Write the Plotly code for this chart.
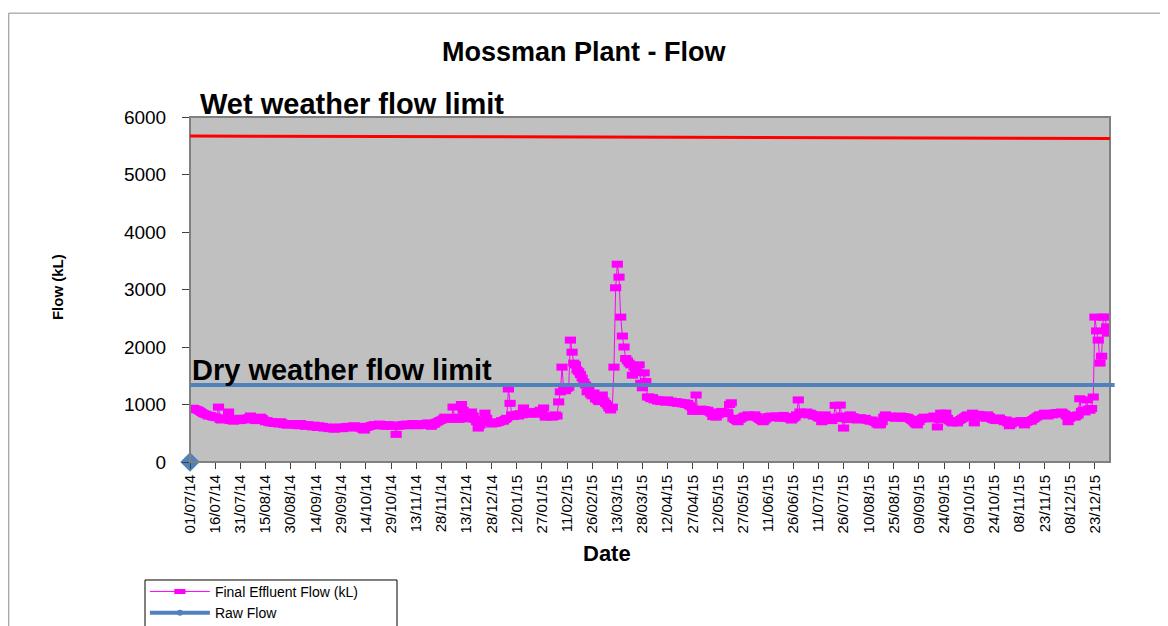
import pandas as pd
import plotly.graph_objects as go

# ---- data: daily Final Effluent Flow (kL), 01/07/2014 .. 31/12/2015 ----
jul14 = [930, 925, 935, 920, 910, 900, 880, 860, 840, 830, 820, 800, 810, 790, 780, 785, 770, 955, 740, 730, 750, 760, 740, 870, 720, 730, 710, 740, 760, 730, 720]
aug14 = [750, 730, 760, 740, 770, 800, 760, 740, 720, 750, 740, 780, 760, 730, 700, 720, 690, 680, 700, 670, 690, 680, 660, 700, 680, 650, 670, 640, 660, 650, 670]
sep14 = [650, 640, 660, 630, 670, 650, 640, 620, 650, 640, 630, 610, 640, 620, 600, 630, 610, 620, 590, 600, 610, 580, 600, 590, 570, 600, 580, 610, 590, 580]
oct14 = [600, 610, 620, 600, 590, 620, 630, 610, 600, 620, 590, 570, 555, 600, 610, 620, 630, 640, 650, 630, 640, 660, 650, 630, 640, 620, 650, 640, 630, 620, 640]
nov14 = [480, 620, 640, 630, 650, 640, 660, 630, 650, 640, 670, 650, 640, 630, 660, 650, 640, 670, 660, 680, 640, 620, 650, 660, 690, 700, 720, 730, 750, 780]
dec14 = [760, 740, 770, 750, 955, 760, 780, 740, 750, 1000, 900, 780, 760, 750, 790, 870, 800, 740, 700, 590, 640, 700, 720, 850, 760, 700, 680, 660, 690, 670, 680]
jan15 = [690, 700, 720, 710, 740, 760, 1270, 1020, 820, 790, 810, 830, 800, 840, 820, 940, 850, 830, 860, 840, 870, 850, 880, 830, 860, 900, 850, 940, 780, 800, 790]
feb15 = [800, 780, 790, 820, 800, 1045, 1220, 1650, 1260, 1240, 1280, 1300, 2120, 1910, 1720, 1690, 1600, 1570, 1520, 1460, 1390, 1340, 1220, 1250, 1180, 1150, 1200, 1100]
mar15 = [1080, 1050, 1100, 1165, 1060, 1020, 990, 940, 905, 955, 1650, 3030, 3440, 3215, 2520, 2190, 2000, 1800, 1760, 1720, 1690, 1510, 1650, 1600, 1560, 1690, 1370, 1290, 1550, 1400, 1130]
apr15 = [1130, 1100, 1120, 1080, 1090, 1060, 1080, 1050, 1070, 1060, 1040, 1080, 1050, 1060, 1040, 1030, 1050, 1020, 1040, 1030, 1010, 1030, 1000, 1020, 980, 960, 880, 900, 1165, 880]
may15 = [900, 920, 890, 910, 880, 900, 870, 850, 790, 830, 780, 820, 860, 880, 870, 840, 860, 850, 1000, 1030, 760, 740, 720, 700, 740, 760, 780, 800, 790, 820, 810]
jun15 = [800, 780, 820, 790, 760, 740, 720, 700, 730, 760, 790, 780, 800, 790, 770, 800, 780, 760, 790, 810, 780, 760, 790, 750, 730, 760, 780, 820, 1080, 870]
jul15 = [860, 850, 840, 870, 820, 850, 830, 800, 820, 790, 770, 760, 700, 740, 820, 780, 760, 740, 720, 760, 985, 780, 760, 990, 800, 590, 760, 740, 780, 820, 790]
aug15 = [780, 760, 730, 760, 770, 740, 750, 760, 730, 720, 710, 730, 700, 690, 660, 645, 650, 700, 780, 820, 790, 770, 800, 780, 790, 760, 780, 770, 800, 760, 790]
sep15 = [770, 780, 760, 740, 720, 690, 660, 645, 700, 740, 760, 780, 765, 750, 770, 760, 780, 800, 760, 610, 740, 850, 800, 780, 850, 760, 720, 700, 680, 700]
oct15 = [700, 680, 720, 740, 760, 780, 800, 820, 810, 790, 850, 680, 800, 830, 820, 810, 800, 780, 760, 820, 790, 760, 740, 730, 720, 760, 765, 740, 720, 700, 730]
nov15 = [680, 630, 660, 690, 700, 710, 690, 700, 720, 680, 645, 690, 700, 720, 710, 740, 760, 780, 800, 820, 810, 830, 850, 820, 800, 830, 840, 820, 850, 860]
dec15 = [840, 860, 870, 850, 830, 800, 700, 760, 790, 810, 780, 800, 820, 1100, 880, 900, 870, 1080, 920, 900, 930, 1130, 2520, 2280, 2120, 1720, 1840, 2520, 2520, 2350, 2240]

effluent = (jul14 + aug14 + sep14 + oct14 + nov14 + dec14 + jan15 + feb15 + mar15
            + apr15 + may15 + jun15 + jul15 + aug15 + sep15 + oct15 + nov15 + dec15)
start_date = "2014-07-01"
dates = pd.date_range(start_date, periods=len(effluent), freq="D")

raw_dates = ["2014-07-01"]
raw_values = [0]

wet_limit = [5670, 5625]   # left / right end of drawn line
dry_limit = 1340

FONT = "Arial, Liberation Sans, sans-serif"
MAGENTA = "#FF00FF"
BLUE = "#4F81BD"

fig = go.Figure()
fig.add_trace(go.Scatter(
    x=dates, y=effluent, mode="lines+markers", name="Final Effluent Flow (kL)",
    line=dict(color=MAGENTA, width=1),
    marker=dict(symbol="line-ew", size=8, color=MAGENTA,
                line=dict(color=MAGENTA, width=7)),
))
fig.add_trace(go.Scatter(
    x=raw_dates, y=raw_values, mode="markers", showlegend=False,
    marker=dict(symbol="diamond", size=15, color=BLUE), cliponaxis=False,
))
fig.add_trace(go.Scatter(
    x=[None], y=[None], mode="lines+markers", name="Raw Flow",
    line=dict(color=BLUE, width=4), marker=dict(symbol="circle", size=6, color=BLUE),
))

shapes = [
    dict(type="rect", xref="paper", yref="paper", x0=0, x1=1, y0=0, y1=1,
         line=dict(color="#808080", width=2), layer="above"),
    dict(type="line", xref="paper", yref="y", x0=0, x1=1, y0=wet_limit[0], y1=wet_limit[1],
         line=dict(color="#FF0000", width=3)),
    dict(type="line", xref="paper", yref="y", x0=0, x1=1.005, y0=dry_limit, y1=dry_limit,
         line=dict(color=BLUE, width=4)),
    # chart border
    dict(type="rect", xref="paper", yref="paper", x0=-0.197, x1=1.2, y0=-0.6, y1=1.301,
         line=dict(color="#8C8C8C", width=1)),
    # legend box
    dict(type="rect", xref="paper", yref="paper", x0=-0.0489, x1=0.225, y0=-0.6, y1=-0.342,
         line=dict(color="black", width=1), fillcolor="white"),
]

annotations = [
    dict(text="<b>Mossman Plant - Flow</b>", xref="paper", yref="paper", x=0.429, y=1.188,
         xanchor="center", yanchor="middle", showarrow=False,
         font=dict(family=FONT, size=27, color="black")),
    dict(text="<b>Wet weather flow limit</b>", xref="paper", yref="paper", x=0.009, y=1.038,
         xanchor="left", yanchor="middle", showarrow=False,
         font=dict(family=FONT, size=29, color="black")),
    dict(text="<b>Dry weather flow limit</b>", xref="paper", yref="paper", x=0.0, y=0.267,
         xanchor="left", yanchor="middle", showarrow=False,
         font=dict(family=FONT, size=29, color="black")),
    dict(text="<b>Flow (kL)</b>", xref="paper", yref="paper", x=-0.1446, y=0.507,
         xanchor="center", yanchor="middle",
         textangle=-90, showarrow=False, font=dict(family=FONT, size=15, color="black")),
    dict(text="<b>Date</b>", xref="paper", yref="paper", x=0.453, y=-0.264,
         xanchor="center", yanchor="middle",
         showarrow=False, font=dict(family=FONT, size=22, color="black")),
]

fig.update_layout(
    width=1168, height=640,
    margin=dict(l=182, r=66, t=109, b=186),
    paper_bgcolor="white", plot_bgcolor="#C0C0C0",
    shapes=shapes, annotations=annotations,
    showlegend=True,
    legend=dict(x=-0.049, y=-0.330, xanchor="left", yanchor="top",
                borderwidth=0, bgcolor="rgba(0,0,0,0)",
                font=dict(family=FONT, size=14, color="black"),
                itemwidth=60, tracegroupgap=0),
    xaxis=dict(
        type="date", range=["2014-07-01", "2016-01-01"],
        tickmode="linear", tick0="2014-07-01", dtick=15 * 86400000,
        tickformat="%d/%m/%y", tickangle=-90,
        tickfont=dict(family=FONT, size=15, color="black"),
        ticks="outside", ticklen=6, tickcolor="#404040",
        showgrid=False, zeroline=False, showline=False,
    ),
    yaxis=dict(
        range=[0, 6000], tickmode="linear", tick0=0, dtick=1000,
        tickfont=dict(family=FONT, size=19, color="black"),
        ticks="outside", ticklen=7, tickcolor="#404040", ticklabelstandoff=12,
        showgrid=False, zeroline=False,
        showline=True, linecolor="#202020", linewidth=1,
    ),
)

fig.write_html("out.html")
